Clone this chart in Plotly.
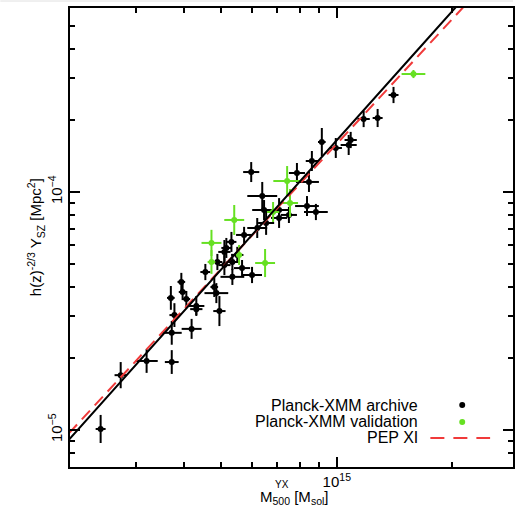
import numpy as np
import plotly.graph_objects as go

# ---------------- data (M in 1e14 Msol, Y in 1e-5 Mpc^2, errors in dex) ----------------
M_UNIT = 1e14
Y_UNIT = 1e-5

arch_m = [2.42, 2.73, 3.19, 3.71, 3.71, 4.18, 3.77, 3.69, 3.93, 3.96, 4.05, 4.30,
          4.94, 4.85, 4.54, 5.09, 5.15, 5.31, 5.73, 5.66, 6.01, 5.34, 4.79, 6.20,
          6.54, 6.39, 5.98, 6.46, 7.07, 7.07, 7.87, 8.61, 8.46, 8.36, 8.82, 9.14,
          9.94, 10.74, 10.87, 11.75, 12.78, 14.06, 5.50, 5.09, 4.30, 7.50, 4.88, 5.34]
arch_y = [1.01, 1.70, 1.95, 1.93, 2.56, 2.66, 3.04, 3.59, 4.19, 3.80, 3.55, 3.32,
          3.16, 3.76, 4.61, 4.93, 5.82, 6.17, 6.60, 4.79, 4.48, 4.40, 3.99, 7.06,
          7.41, 9.62, 12.13, 8.40, 8.40, 7.78, 12.02, 13.50, 11.02, 8.73, 8.24, 16.22,
          15.31, 15.76, 16.54, 20.26, 20.46, 25.56, 5.44, 5.60, 3.22, 8.01, 5.08, 5.08]
arch_m_err = [0.013, 0.016, 0.029, 0.018, 0.026, 0.026, 0.013, 0.010, 0.010, 0.010, 0.010, 0.021,
              0.016, 0.031, 0.013, 0.016, 0.013, 0.013, 0.021, 0.021, 0.026, 0.031, 0.010, 0.026,
              0.021, 0.039, 0.021, 0.031, 0.026, 0.021, 0.021, 0.016, 0.026, 0.031, 0.031, 0.010,
              0.016, 0.021, 0.016, 0.016, 0.013, 0.013, 0.016, 0.016, 0.016, 0.021, 0.013, 0.016]
arch_y_err = [0.059, 0.055, 0.050, 0.050, 0.050, 0.042, 0.050, 0.050, 0.038, 0.034, 0.034, 0.042,
              0.063, 0.042, 0.034, 0.042, 0.042, 0.042, 0.034, 0.034, 0.034, 0.034, 0.042, 0.042,
              0.050, 0.059, 0.042, 0.042, 0.050, 0.042, 0.042, 0.042, 0.042, 0.042, 0.034, 0.059,
              0.042, 0.042, 0.034, 0.034, 0.038, 0.034, 0.034, 0.050, 0.025, 0.034, 0.034, 0.034]

val_m = [4.71, 5.40, 4.71, 6.50, 7.42, 7.55, 6.82, 15.85, 5.56]
val_y = [6.11, 7.63, 5.08, 5.03, 11.12, 8.99, 8.24, 31.31, 5.44]
val_m_err = [0.026, 0.026, 0.010, 0.026, 0.036, 0.021, 0.016, 0.031, 0.008]
val_y_err = [0.055, 0.063, 0.050, 0.059, 0.063, 0.059, 0.042, 0.017, 0.042]

# scaling relations: Y = norm * (M / pivot)^slope
fit_pivot = 6.0
fit_norm, fit_slope = 6.58, 1.80        # black solid line
pep_norm, pep_slope = 6.55, 1.74        # PEP XI (red dashed)

legend_labels = ["Planck-XMM archive", "Planck-XMM validation", "PEP XI"]

x_tick_vals = [1e15]
y_tick_vals = [1e-5, 1e-4]

# ---------------- figure ----------------
W, H = 515, 512
ML, MR, MT, MB = 70, 0, 8, 45
PW, PH = W - ML - MR, H - MT - MB
FONT = "Liberation Sans, Arial, sans-serif"
GREEN = "#66e022"
RED = "#f03a3a"


def px_x(px):
    return (px - ML) / PW


def px_y(py):
    return (H - MB - py) / PH


def errs(vals, dex):
    v = np.asarray(vals)
    d = np.asarray(dex)
    return v * (10 ** d - 1), v * (1 - 10 ** (-d))


fig = go.Figure()

for mv, yv, me, ye, col in [(arch_m, arch_y, arch_m_err, arch_y_err, "black"),
                            (val_m, val_y, val_m_err, val_y_err, GREEN)]:
    m = np.asarray(mv) * M_UNIT
    y = np.asarray(yv) * Y_UNIT
    xp, xm = errs(m, me)
    yp, ym = errs(y, ye)
    fig.add_trace(go.Scatter(
        x=m, y=y, mode="markers",
        marker=dict(color=col, size=6),
        error_x=dict(type="data", array=xp, arrayminus=xm, color=col, thickness=2, width=0),
        error_y=dict(type="data", array=yp, arrayminus=ym, color=col, thickness=2, width=0),
        showlegend=False, hoverinfo="skip"))

m_line = np.logspace(np.log10(2.0), np.log10(30.0), 200)
fig.add_trace(go.Scatter(x=m_line * M_UNIT, y=pep_norm * (m_line / fit_pivot) ** pep_slope * Y_UNIT,
                         mode="lines", line=dict(color=RED, width=2, dash="12px,7px"),
                         showlegend=False, hoverinfo="skip"))
fig.add_trace(go.Scatter(x=m_line * M_UNIT, y=fit_norm * (m_line / fit_pivot) ** fit_slope * Y_UNIT,
                         mode="lines", line=dict(color="black", width=2),
                         showlegend=False, hoverinfo="skip"))

x_lo = 15 - (338 - ML) / 385.0
x_hi = 15 + (W - 338) / 385.0
y_lo = -5 - (H - MB - 430) / 238.0
y_hi = -4 + (192 - MT) / 238.0

x_minor = [d * 10 ** e for e in (14, 15) for d in range(2, 10)]
y_minor = [d * 10 ** e for e in (-6, -5, -4) for d in range(2, 10)]

fig.update_xaxes(type="log", range=[x_lo, x_hi], tickmode="array", tickvals=x_tick_vals,
                 ticktext=["10<sup>15</sup>"], ticks="inside", ticklen=10, tickwidth=1.5,
                 tickcolor="black", showline=True, linecolor="black", linewidth=2,
                 mirror="ticks", showgrid=False, zeroline=False,
                 tickfont=dict(family=FONT, size=15, color="black"),
                 minor=dict(tickvals=x_minor, ticks="inside", ticklen=5, tickwidth=1.5,
                            tickcolor="black", showgrid=False))
fig.update_yaxes(type="log", range=[y_lo, y_hi], tickmode="array", tickvals=y_tick_vals,
                 ticktext=["10<sup>−5</sup>", "10<sup>−4</sup>"], tickangle=-90,
                 ticks="inside", ticklen=10, tickwidth=1.5, tickcolor="black",
                 showline=True, linecolor="black", linewidth=2, mirror="ticks",
                 showgrid=False, zeroline=False,
                 tickfont=dict(family=FONT, size=15, color="black"),
                 minor=dict(tickvals=y_minor, ticks="inside", ticklen=5, tickwidth=1.5,
                            tickcolor="black", showgrid=False))

annotations = []
# axis titles
annotations.append(dict(xref="paper", yref="paper", x=px_x(35), y=px_y(237), textangle=-90,
                        text="h(z)<sup>-2/3</sup> Y<sub>SZ</sub> [Mpc<sup>2</sup>]",
                        showarrow=False, xanchor="center", yanchor="middle",
                        font=dict(family=FONT, size=15, color="black")))
annotations.append(dict(xref="paper", yref="paper", x=px_x(259), y=px_y(497),
                        text="M<sub>500</sub> [M<sub>sol</sub>]", showarrow=False,
                        xanchor="left", yanchor="middle",
                        font=dict(family=FONT, size=15, color="black")))
annotations.append(dict(xref="paper", yref="paper", x=px_x(274), y=px_y(484),
                        text="YX", showarrow=False, xanchor="left", yanchor="middle",
                        font=dict(family=FONT, size=10, color="black")))
# legend text
for lab, py in zip(legend_labels, [405, 421, 437]):
    annotations.append(dict(xref="paper", yref="paper", x=px_x(422), y=px_y(py), text=lab,
                            showarrow=False, xanchor="right", yanchor="middle",
                            font=dict(family=FONT, size=16, color="black")))

shapes = []
for col, py in [("black", 405), (GREEN, 422)]:
    shapes.append(dict(type="circle", xref="paper", yref="paper",
                       x0=px_x(461), x1=px_x(467), y0=px_y(py + 3), y1=px_y(py - 3),
                       fillcolor=col, line=dict(width=0)))
shapes.append(dict(type="line", xref="paper", yref="paper", x0=px_x(432), x1=px_x(492),
                   y0=px_y(438), y1=px_y(438), line=dict(color=RED, width=2, dash="14px,9px")))
shapes.append(dict(type="line", xref="paper", yref="paper", x0=px_x(0), x1=px_x(W),
                   y0=px_y(1), y1=px_y(1), line=dict(color="#e0e0e0", width=1)))

fig.update_layout(width=W, height=H, margin=dict(l=ML, r=MR, t=MT, b=MB, pad=0),
                  paper_bgcolor="white", plot_bgcolor="white",
                  annotations=annotations, shapes=shapes, showlegend=False,
                  font=dict(family=FONT, color="black"))

fig.write_html("out.html")
